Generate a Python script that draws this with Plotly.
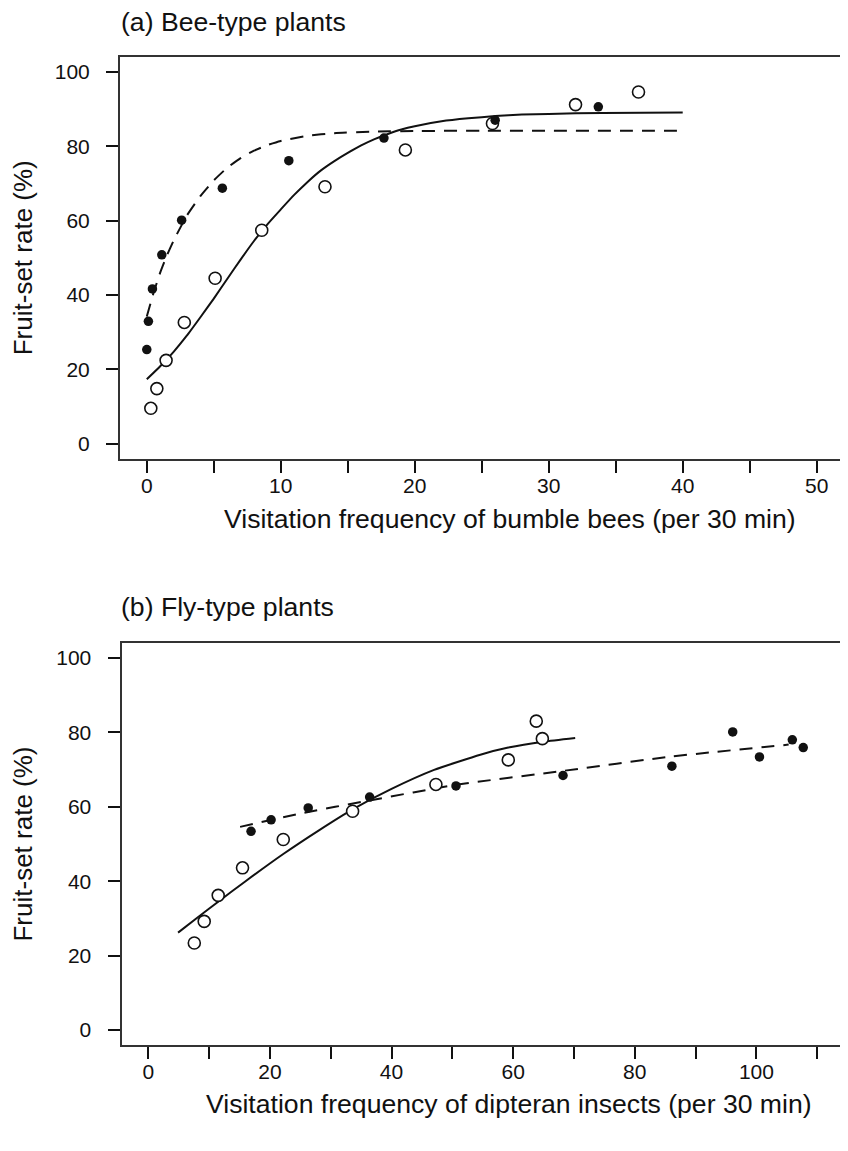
import plotly.graph_objects as go

# page is 848x1151; the html body adds an 8px margin, so the figure is 840x1143
OFF = 8
W, H = 848 - OFF, 1151 - OFF

# ---------------- Panel (a): Bee-type plants ----------------
a_open_x = [0.3, 0.75, 1.44, 2.8, 5.1, 8.58, 13.3, 19.3, 25.8, 32.0, 36.7]
a_open_y = [9.5, 14.8, 22.4, 32.6, 44.5, 57.4, 69.1, 79.0, 86.1, 91.2, 94.6]
a_fill_x = [0.0, 0.12, 0.42, 1.12, 2.6, 5.64, 10.6, 17.7, 26.0, 33.7]
a_fill_y = [25.3, 32.9, 41.6, 50.8, 60.1, 68.7, 76.1, 82.2, 87.0, 90.6]
# fitted curves
a_solid_x = [0, 1, 2, 3, 4, 5, 6, 7, 8, 9, 10, 11, 12, 13, 14, 15, 16, 17, 18, 19, 20, 22, 24, 26, 28, 30, 34, 40]
a_solid_y = [17.3, 20.8, 24.7, 29.1, 34.0, 39.0, 44.3, 49.5, 54.5, 59.0, 63.0, 66.9, 70.4, 73.5, 76.0, 78.2,
             80.2, 81.9, 83.3, 84.5, 85.4, 86.7, 87.5, 88.1, 88.5, 88.7, 88.95, 89.1]
a_dash_x = [0, 0.5, 1, 1.5, 2, 3, 4, 5, 6, 7, 8, 9, 10, 12, 14, 17, 20, 25, 40]
a_dash_y = [34.2, 40.5, 46.0, 50.6, 54.6, 61.4, 66.6, 70.8, 74.2, 76.8, 78.8, 80.3, 81.4, 82.8, 83.5, 83.95,
            84.1, 84.15, 84.15]

# ---------------- Panel (b): Fly-type plants ----------------
b_open_x = [7.57, 9.2, 11.5, 15.5, 22.2, 33.6, 47.3, 59.2, 63.8, 64.8]
b_open_y = [23.4, 29.2, 36.2, 43.6, 51.2, 58.8, 66.0, 72.6, 83.0, 78.3]
b_fill_x = [16.9, 20.2, 26.3, 36.4, 50.6, 68.2, 86.1, 96.1, 100.5, 105.9, 107.7]
b_fill_y = [53.4, 56.5, 59.7, 62.6, 65.6, 68.4, 70.9, 80.1, 73.4, 78.0, 75.9]
b_solid_x = [4.9, 8, 11.5, 16, 22.2, 28, 33.6, 40, 47, 54.6, 59.2, 65, 70.2]
b_solid_y = [26.2, 30.1, 34.5, 40.0, 47.3, 53.6, 59.3, 64.8, 69.9, 74.0, 75.9, 77.5, 78.5]
b_dash_x = [15.1, 25, 36.4, 50.6, 68, 86, 105.3]
b_dash_y = [54.6, 58.2, 61.7, 65.9, 69.6, 73.5, 76.7]

titles = ["(a) Bee-type plants", "(b) Fly-type plants"]
xtitles = ["Visitation frequency of bumble bees (per 30 min)",
           "Visitation frequency of dipteran insects (per 30 min)"]
ytitle = "Fruit-set rate (%)"

FONT = "Liberation Sans, Arial, Helvetica, sans-serif"
INK = "#111111"
BOX = "#333333"


def fx(p):
    return (p - OFF) / W


def fy(p):
    return 1 - (p - OFF) / H


fig = go.Figure()


def add_panel(xa, ya, ox, oy, fxs, fys, sx, sy, dx, dy):
    fig.add_trace(go.Scatter(x=sx, y=sy, mode="lines",
                             line=dict(color=INK, width=2, shape="spline", smoothing=0.5),
                             xaxis=xa, yaxis=ya, showlegend=False, hoverinfo="skip"))
    fig.add_trace(go.Scatter(x=dx, y=dy, mode="lines",
                             line=dict(color=INK, width=2, dash="13px,9px", shape="spline", smoothing=0.5),
                             xaxis=xa, yaxis=ya, showlegend=False, hoverinfo="skip"))
    fig.add_trace(go.Scatter(x=ox, y=oy, mode="markers",
                             marker=dict(symbol="circle", size=12, color="white", line=dict(color=INK, width=1.6)),
                             xaxis=xa, yaxis=ya, showlegend=False))
    fig.add_trace(go.Scatter(x=fxs, y=fys, mode="markers",
                             marker=dict(symbol="circle", size=9.5, color=INK, line=dict(width=0)),
                             xaxis=xa, yaxis=ya, showlegend=False))


add_panel("x", "y", a_open_x, a_open_y, a_fill_x, a_fill_y, a_solid_x, a_solid_y, a_dash_x, a_dash_y)
add_panel("x2", "y2", b_open_x, b_open_y, b_fill_x, b_fill_y, b_solid_x, b_solid_y, b_dash_x, b_dash_y)


def xax(dom, rng, dtick, minor, anchor):
    return dict(domain=dom, range=rng, tick0=0, dtick=dtick, ticks="outside", ticklen=12, tickwidth=1.5,
                tickcolor=INK,
                minor=dict(tick0=0, dtick=minor, ticks="outside", ticklen=12, tickwidth=1.5, tickcolor=INK),
                showline=True, mirror=True, linecolor=BOX, linewidth=2, showgrid=False, zeroline=False,
                tickfont=dict(family=FONT, size=21, color=INK), ticklabelstandoff=-5, anchor=anchor,
                automargin=False, fixedrange=True)


def yax(dom, anchor):
    return dict(domain=dom, range=[-4, 104], tick0=0, dtick=20, ticks="outside", ticklen=12, tickwidth=1.5,
                tickcolor=INK, showline=True, mirror=True, linecolor=BOX, linewidth=2, showgrid=False,
                zeroline=False,
                tickfont=dict(family=FONT, size=21, color=INK), ticklabelstandoff=12, anchor=anchor,
                title=dict(text=ytitle, font=dict(family=FONT, size=26, color=INK), standoff=16),
                automargin=False, fixedrange=True)


def label(text, px, py, anchor="center"):
    return dict(text=text, x=fx(px), y=fy(py), xref="paper", yref="paper", xanchor=anchor, yanchor="middle",
                showarrow=False, font=dict(family=FONT, size=26.6, color=INK))


fig.update_layout(
    width=W, height=H, margin=dict(l=0, r=0, t=0, b=0),
    paper_bgcolor="white", plot_bgcolor="white",
    xaxis=xax([fx(120), fx(843.5)], [-2, 52], 10, 5, "y"),
    yaxis=yax([fy(458.5), fy(57)], "x"),
    xaxis2=xax([fx(121.5), fx(844)], [-4.4, 114.4], 20, 10, "y2"),
    yaxis2=yax([fy(1045), fy(643)], "x2"),
    annotations=[
        label(titles[0], 119, 22, "left"),
        label(titles[1], 119, 607, "left"),
        label(xtitles[0], 510, 519),
        label(xtitles[1], 508.5, 1104),
    ],
)

fig.write_html("out.html")
